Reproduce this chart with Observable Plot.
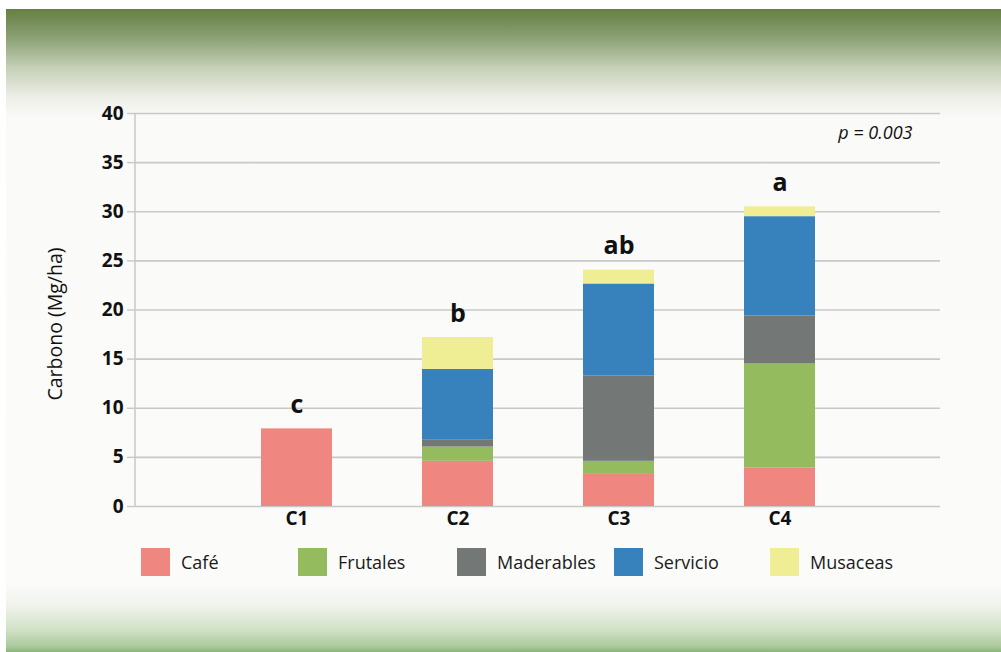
<!DOCTYPE html>
<html>
<head>
<meta charset="utf-8">
<script src="https://cdn.jsdelivr.net/npm/d3@7"></script>
<script src="https://cdn.jsdelivr.net/npm/@observablehq/plot@0.6"></script>
<style>
  html, body { margin: 0; padding: 0; background: #ffffff; }
  #wrap { position: relative; width: 1001px; height: 652px; overflow: hidden; background: #ffffff; font-family: "Open Sans", sans-serif; }
  #bg { position: absolute; left: 6px; top: 9px; right: 0; bottom: 0;
    background: linear-gradient(to bottom, #657f43 0px, #8a9f72 28px, #c4cfb5 58px, #eceee7 88px, #fafaf8 108px, #fbfbfa 575px, #f0f3ec 596px, #cfe0c4 622px, #a9c89a 638px, #88b478 643px); }
  #chart { position: absolute; left: 0; top: 0; }
  #legend { position: absolute; left: 0; top: 548px; width: 1001px; height: 30px; }
  .item { position: absolute; top: 0; height: 28px; display: flex; align-items: center; }
  .sw { width: 29px; height: 28px; margin-right: 11px; }
  .lb { font-size: 18px; color: #1a1a1a; font-family: "Open Sans", sans-serif; }
</style>
</head>
<body>
<div id="wrap">
  <div id="bg"></div>
  <div id="chart"></div>
  <div id="legend"></div>
</div>
<script>
const categories = ["C1", "C2", "C3", "C4"];
const components = ["Café", "Frutales", "Maderables", "Servicio", "Musaceas"];
const cafe       = [7.9, 4.6, 3.35, 3.9];
const frutales   = [0, 1.45, 1.25, 10.6];
const maderables = [0, 0.75, 8.7, 4.9];
const servicio   = [0, 7.15, 9.35, 10.1];
const musaceas   = [0, 3.25, 1.4, 1.0];
const letters    = ["c", "b", "ab", "a"];
const colors     = ["#ef8680", "#94bb5e", "#737877", "#3781bc", "#f0ee95"];
const yTicks     = [0, 5, 10, 15, 20, 25, 30, 35, 40];
const pText      = "p = 0.003";
const yLabel     = "Carbono (Mg/ha)";

const series = [cafe, frutales, maderables, servicio, musaceas];
const rows = [];
categories.forEach((c, i) => {
  components.forEach((k, j) => {
    if (series[j][i] > 0) rows.push({cat: c, comp: k, value: series[j][i]});
  });
});
const totals = categories.map((c, i) => ({cat: c, total: d3.sum(series, s => s[i]), letter: letters[i]}));

const font = "Open Sans";
const plot = Plot.plot({
  width: 1001,
  height: 545,
  marginLeft: 135,
  marginRight: 61,
  marginTop: 113,
  marginBottom: 39,
  style: {background: "transparent", fontFamily: font, color: "#111"},
  x: {domain: categories, paddingInner: 0.56, paddingOuter: 0.78, label: null},
  y: {domain: [0, 40], label: null},
  color: {domain: components, range: colors},
  marks: [
    Plot.gridY({ticks: yTicks, stroke: "#c8c8c8", strokeOpacity: 1, strokeWidth: 1.6}),
    Plot.axisY({ticks: yTicks, tickSize: 8, tickPadding: 4, stroke: "#c8c8c8", strokeWidth: 1.4,
      fontSize: 19, fontWeight: "bold", fill: "#111", label: null}),
    Plot.axisX({tickSize: 0, tickPadding: 5, fontSize: 19, fontWeight: "bold", fill: "#111", label: null}),
    Plot.barY(rows, {x: "cat", y: "value", fill: "comp"}),
    Plot.text(totals, {x: "cat", y: "total", text: "letter", dy: -24, fontSize: 25, fontWeight: "bold", fill: "#111"}),
    Plot.text([pText], {frameAnchor: "top-right", dx: -28, dy: 20, lineAnchor: "middle", fontSize: 18, fontStyle: "italic", fill: "#111"}),
    Plot.text([yLabel], {frameAnchor: "left", textAnchor: "middle", rotate: -90, dx: -80, dy: 14, fontSize: 19.5, fill: "#111"})
  ]
});
// vertical axis line at left frame edge, from y=0 to y=40 through the y scale
const ys = plot.scale("y");
d3.select(plot).append("line")
  .attr("x1", 135).attr("x2", 135)
  .attr("y1", ys.apply(0)).attr("y2", ys.apply(40))
  .attr("stroke", "#c8c8c8").attr("stroke-width", 1.5);
document.getElementById("chart").appendChild(plot);

const legendX = [141, 298, 457, 614, 770];
const legend = document.getElementById("legend");
components.forEach((k, j) => {
  const it = document.createElement("div");
  it.className = "item";
  it.style.left = legendX[j] + "px";
  it.innerHTML = `<div class="sw" style="background:${colors[j]}"></div><span class="lb">${k}</span>`;
  legend.appendChild(it);
});
</script>
</body>
</html>
